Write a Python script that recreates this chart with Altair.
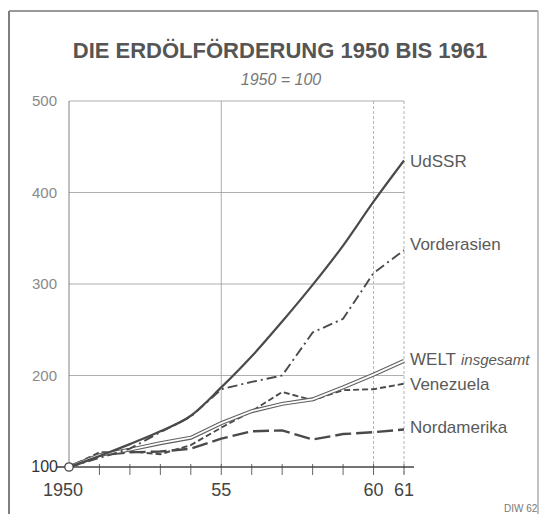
import altair as alt
import pandas as pd

years = list(range(1950, 1962))
udssr = [100, 112, 125, 139, 156, 187, 221, 259, 299, 342, 390, 435]
vorderasien = [100, 110, 120, 138, 155, 185, 193, 200, 247, 262, 312, 337]
welt = [100, 113, 119, 126, 132, 148, 161, 169, 174, 187, 201, 216]
venezuela = [100, 116, 117, 114, 124, 143, 161, 182, 173, 184, 185, 191]
nordamerika = [100, 113, 116, 117, 120, 131, 139, 140, 130, 136, 138, 141]

series_names = ["UdSSR", "Vorderasien", "WELT", "Venezuela", "Nordamerika"]
label_values = [433, 343, 217, 190, 143]

y_ticks = [100, 200, 300, 400, 500]
x_tick_years = [1950, 1955, 1960, 1961]
x_tick_labels = ["1950", "55", "60", "61"]
minor_years = list(range(1951, 1962))

title_text = "DIE ERDÖLFÖRDERUNG 1950 BIS 1961"
subtitle_text = "1950 = 100"
source_text = "DIW 62"

W, H = 335, 366
INK = "#4a4a4a"
GRID = "#9a9a9a"
FONT = "Liberation Sans"

rows = []
for name, vals in zip(series_names, [udssr, vorderasien, welt, venezuela, nordamerika]):
    for yr, v in zip(years, vals):
        rows.append({"series": name, "year": yr, "value": v})
df = pd.DataFrame(rows)

xs = alt.Scale(domain=[1950, 1961], nice=False, zero=False)
ys = alt.Scale(domain=[100, 500], nice=False, zero=False)

def X(f="year"):
    return alt.X(f"{f}:Q", scale=xs, axis=None)

def Y(f="value"):
    return alt.Y(f"{f}:Q", scale=ys, axis=None)

grid_df = pd.DataFrame({"v": y_ticks[1:]})
hgrid = alt.Chart(grid_df).mark_rule(color=GRID, strokeWidth=0.8).encode(
    y=Y("v"), x=alt.value(0), x2=alt.value(W))

v55 = alt.Chart(pd.DataFrame({"yr": [1955]})).mark_rule(color=GRID, strokeWidth=0.8).encode(
    x=X("yr"), y=alt.value(0), y2=alt.value(H))
v60 = alt.Chart(pd.DataFrame({"yr": [1960, 1961]})).mark_rule(
    color="#aaaaaa", strokeWidth=0.9, strokeDash=[3, 2]).encode(
    x=X("yr"), y=alt.value(0), y2=alt.value(H + 8))
vleft = alt.Chart(pd.DataFrame({"yr": [1950]})).mark_rule(color="#808080", strokeWidth=1).encode(
    x=X("yr"), y=alt.value(0), y2=alt.value(H))

minor = alt.Chart(pd.DataFrame({"yr": minor_years})).mark_rule(color="#666", strokeWidth=1).encode(
    x=X("yr"), y=alt.value(H - 3), y2=alt.value(H + 8))

baseline = alt.Chart(pd.DataFrame({"v": [100]})).mark_rule(color="#444", strokeWidth=1.6).encode(
    y=Y("v"), x=alt.value(0), x2=alt.value(W + 10))
dash100 = alt.Chart(pd.DataFrame({"v": [100]})).mark_rule(color="#444", strokeWidth=1.6).encode(
    y=Y("v"), x=alt.value(-12), x2=alt.value(-4))

base = alt.Chart(df).encode(x=X(), y=Y())

l_ud = base.transform_filter("datum.series == 'UdSSR'").mark_line(
    color=INK, strokeWidth=2.2, interpolate="monotone")
l_va = base.transform_filter("datum.series == 'Vorderasien'").mark_line(
    color=INK, strokeWidth=1.9, strokeDash=[10, 4, 2, 4])
l_w1 = base.transform_filter("datum.series == 'WELT'").mark_line(
    color="#606060", strokeWidth=4.0)
l_w2 = base.transform_filter("datum.series == 'WELT'").mark_line(
    color="white", strokeWidth=1.8)
l_ve = base.transform_filter("datum.series == 'Venezuela'").mark_line(
    color=INK, strokeWidth=1.9, strokeDash=[6, 3])
l_na = base.transform_filter("datum.series == 'Nordamerika'").mark_line(
    color=INK, strokeWidth=2.4, strokeDash=[16, 5])

origin = alt.Chart(pd.DataFrame({"year": [1950], "value": [100]})).mark_point(
    shape="circle", filled=True, fill="white", stroke="#444", strokeWidth=1.3, size=70, opacity=1
).encode(x=X(), y=Y())

lab_df = pd.DataFrame({"series": series_names, "value": label_values, "year": [1961] * 5})
labels = alt.Chart(lab_df).mark_text(
    align="left", baseline="middle", dx=6, font=FONT, fontSize=17, color="#5a5a5a"
).encode(x=X(), y=Y(), text="series:N")
insg = alt.Chart(lab_df).transform_filter("datum.series == 'WELT'").mark_text(
    align="left", baseline="middle", dx=57, font=FONT, fontSize=15, fontStyle="italic", color="#5a5a5a"
).encode(x=X(), y=Y(), text=alt.value("insgesamt"))

yl_df = pd.DataFrame({"v": y_ticks, "lab": [str(t) for t in y_ticks]})
ylab = alt.Chart(yl_df).transform_filter("datum.v > 100").mark_text(
    align="right", baseline="middle", font=FONT, fontSize=15, color="#8a8a8a"
).encode(y=Y("v"), x=alt.value(-12), text="lab:N")
ylab100 = alt.Chart(yl_df).transform_filter("datum.v == 100").mark_text(
    align="right", baseline="middle", font=FONT, fontSize=16, color="#333"
).encode(y=Y("v"), x=alt.value(-11), text="lab:N")

xl_df = pd.DataFrame({"yr": x_tick_years, "lab": x_tick_labels})
xlab = alt.Chart(xl_df).transform_filter("datum.yr > 1950").mark_text(
    align="center", baseline="middle", font=FONT, fontSize=18, color="#444"
).encode(x=X("yr"), y=alt.value(H + 24), text="lab:N")
xlab50 = alt.Chart(xl_df).transform_filter("datum.yr == 1950").mark_text(
    align="center", baseline="middle", dx=-6, font=FONT, fontSize=18, color="#444"
).encode(x=X("yr"), y=alt.value(H + 24), text="lab:N")

txt_df = pd.DataFrame({"t": [title_text]})
title = alt.Chart(txt_df).mark_text(
    align="center", baseline="middle", font=FONT, fontSize=22, fontWeight="bold", color="#555"
).encode(x=alt.value(211), y=alt.value(-50), text="t:N")
sub = alt.Chart(pd.DataFrame({"t": [subtitle_text]})).mark_text(
    align="center", baseline="middle", font=FONT, fontSize=16, fontStyle="italic", color="#777"
).encode(x=alt.value(212), y=alt.value(-21), text="t:N")
src = alt.Chart(pd.DataFrame({"t": [source_text]})).mark_text(
    align="left", baseline="middle", font=FONT, fontSize=10, color="#777"
).encode(x=alt.value(435), y=alt.value(H + 42), text="t:N")

fr_df = pd.DataFrame({"a": [0]})
frame_left = alt.Chart(fr_df).mark_rule(color="#555", strokeWidth=1.5).encode(
    x=alt.value(-60), y=alt.value(-90), y2=alt.value(H + 60))
frame_top = alt.Chart(fr_df).mark_rule(color="#777", strokeWidth=1.3).encode(
    x=alt.value(-60), x2=alt.value(469), y=alt.value(-90), y2=alt.value(-90))
frame_right = alt.Chart(fr_df).mark_rule(color="#999", strokeWidth=1.2).encode(
    x=alt.value(469), y=alt.value(-90), y2=alt.value(H + 60))

chart = alt.layer(
    frame_left, frame_top, frame_right,
    hgrid, v55, v60, vleft, minor, baseline, dash100,
    l_na, l_ve, l_w1, l_w2, l_va, l_ud, origin,
    labels, insg, ylab, ylab100, xlab, xlab50, title, sub, src
).properties(
    width=W, height=H,
    background="white",
    autosize=alt.AutoSizeParams(type="none"),
    padding={"left": 61, "top": 93, "right": 135, "bottom": 47},
).configure_view(stroke=None)

chart.save("out.html", embed_options={"renderer": "svg", "actions": False})
